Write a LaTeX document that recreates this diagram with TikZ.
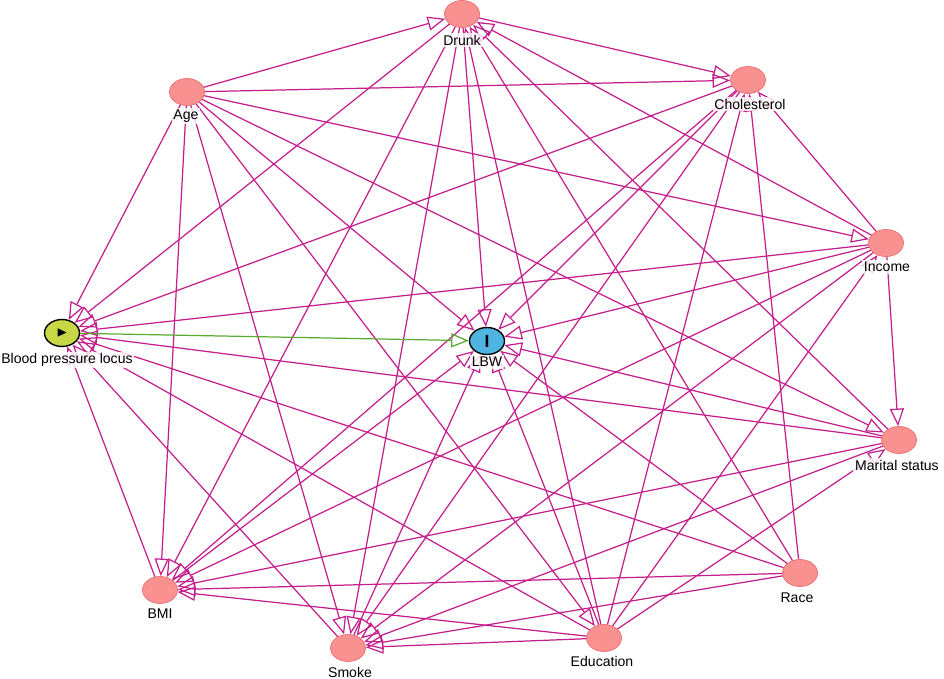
\documentclass[tikz,border=0pt]{standalone}
\usepackage{amssymb}
\usepackage{fontspec}
\setmainfont{Liberation Sans}
\usepackage{xcolor}
\usetikzlibrary{arrows.meta,shapes.geometric}
\definecolor{edgec}{RGB}{196,30,140}
\definecolor{nodec}{RGB}{250,145,145}
\definecolor{nodeb}{RGB}{235,110,110}
\definecolor{expc}{RGB}{200,215,70}
\definecolor{outc}{RGB}{80,180,225}
\definecolor{greenc}{RGB}{90,170,50}
\begin{document}
\begin{tikzpicture}[x=0.02cm,y=-0.02cm,
    var/.style={draw=nodeb, fill=nodec, ellipse, minimum width=0.7cm, minimum height=0.54cm, inner sep=0pt},
    lbl/.style={font=\footnotesize, inner sep=1pt, fill=white, fill opacity=0.8, text opacity=1},
    edge/.style={draw=edgec, line width=0.7pt, -{Triangle[open, length=10pt, width=8pt]}}
]
    \useasboundingbox (0,0) rectangle (944,679);
    % Nodes
    \node[var] (drunk) at (462,14) {};
    \node[var] (chol) at (748,80) {};
    \node[var] (age) at (187,92) {};
    \node[var] (income) at (886,243) {};
    \node[var, fill=expc, draw=black, thick] (bp) at (62,333) {\footnotesize$\blacktriangleright$};
    \node[var, fill=outc, draw=black, thick] (lbw) at (487,341) {\textbf{I}};
    \node[var] (marital) at (899,440) {};
    \node[var] (bmi) at (160,590) {};
    \node[var] (race) at (800,573) {};
    \node[var] (edu) at (604,638) {};
    \node[var] (smoke) at (348,648) {};
    % Edges
    \foreach \s/\t in {age/drunk, age/chol, age/income, age/marital, age/bp, age/bmi, age/smoke, age/lbw, age/edu,
        race/drunk, race/chol, race/bmi, race/smoke, race/lbw, race/bp,
        edu/drunk, edu/chol, edu/income, edu/marital, edu/bmi, edu/smoke, edu/lbw, edu/bp,
        income/marital, income/drunk, income/chol, income/bp, income/lbw, income/bmi, income/smoke,
        marital/drunk, marital/bp, marital/lbw, marital/bmi, marital/smoke,
        smoke/bp, smoke/lbw,
        drunk/bp, drunk/lbw, drunk/bmi, drunk/smoke, drunk/chol,
        chol/bp, chol/lbw, chol/bmi, chol/smoke,
        bmi/bp, bmi/lbw}
        \draw[edge] (\s) -- (\t);
    \draw[edge, draw=greenc] (bp) -- (lbw);
    % Labels
    \node[lbl] (drunkl) at (462,40) {Drunk};
    \node[lbl] (choll) at (750,104) {Cholesterol};
    \node[lbl] (agel) at (186,116) {Age};
    \node[lbl] (incomel) at (887,267) {Income};
    \node[lbl] (bpl) at (67,360) {Blood pressure locus};
    \node[lbl] (lbwl) at (487,362) {LBW};
    \node[lbl] (maritall) at (897,465) {Marital status};
    \node[lbl] (bmil) at (160,614) {BMI};
    \node[lbl] (racel) at (797,598) {Race};
    \node[lbl] (edul) at (602,661) {Education};
    \node[lbl] (smokel) at (350,672) {Smoke};
\end{tikzpicture}
\end{document}
